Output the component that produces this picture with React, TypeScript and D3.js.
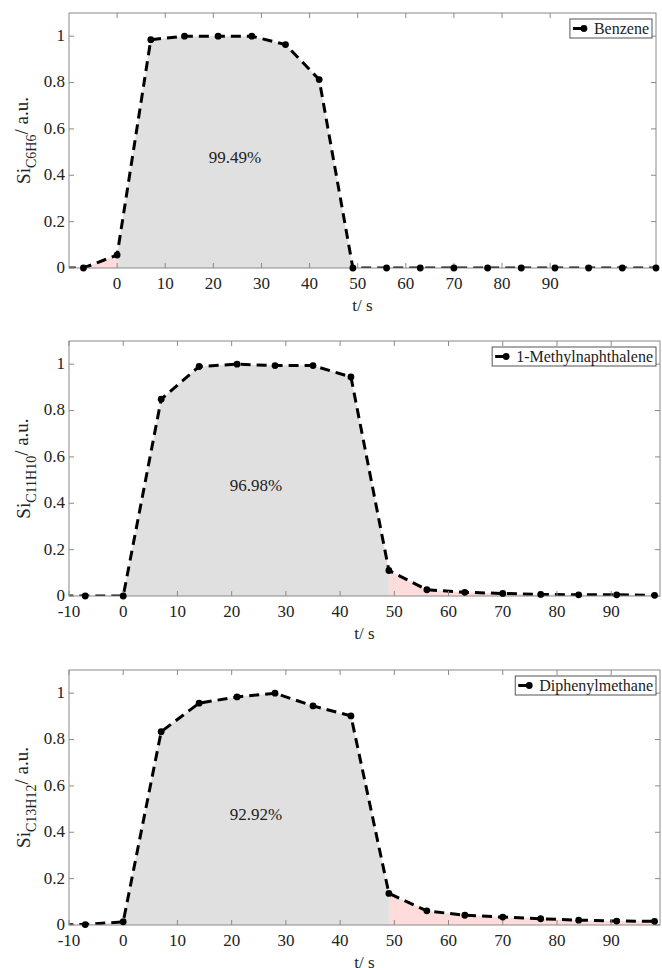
import React, { useEffect, useRef } from 'react';
import * as d3 from 'd3';

// Sampling times (s), one sample every 7 s
const times = [-14, -7, 0, 7, 14, 21, 28, 35, 42, 49, 56, 63, 70, 77, 84, 91, 98, 105, 112];

// Normalised signal intensity per compound
const benzene = [0, 0, 0.056, 0.985, 1.0, 1.0, 1.0, 0.964, 0.813, 0, 0, 0, 0, 0, 0, 0, 0, 0, 0];
const methylnaphthalene = [0, 0, 0, 0.849, 0.99, 1.0, 0.994, 0.994, 0.945, 0.11, 0.027, 0.016, 0.011, 0.007, 0.005, 0.005, 0.003];
const diphenylmethane = [0, 0.002, 0.014, 0.834, 0.957, 0.984, 1.0, 0.945, 0.902, 0.136, 0.061, 0.042, 0.034, 0.027, 0.021, 0.017, 0.016];

const compoundNames = ['Benzene', '1-Methylnaphthalene', 'Diphenylmethane'];
const formulas = ['C6H6', 'C11H10', 'C13H12'];
const shares = ['99.49%', '96.98%', '92.92%'];

// Window in which the pulse is counted (s)
const windowStart = 0;
const windowEnd = 49;

const yTicks = [0, 0.2, 0.4, 0.6, 0.8, 1];
const xTicksFirst = [0, 10, 20, 30, 40, 50, 60, 70, 80, 90];
const xTicksOther = [-10, 0, 10, 20, 30, 40, 50, 60, 70, 80, 90];
const xDomains: [number, number][] = [[-10, 112], [-10, 99], [-10, 99]];

const seriesList = [benzene, methylnaphthalene, diphenylmethane];
const tickSets = [xTicksFirst, xTicksOther, xTicksOther];

const W = 662;
const H = 968;
const FONT = "'Liberation Serif', 'Times New Roman', 'DejaVu Serif', serif";

const frames = [
  { left: 69, right: 656, top: 13, bottom: 268 },
  { left: 69, right: 660, top: 341, bottom: 596 },
  { left: 69, right: 660, top: 670, bottom: 925 },
];

export default function App() {
  const ref = useRef<SVGSVGElement | null>(null);

  useEffect(() => {
    const svg = d3.select(ref.current);
    svg.selectAll('*').remove();

    frames.forEach((f, i) => {
      const values = seriesList[i];
      const pts = values.map((v, k) => ({ t: times[k], v }));
      const x = d3.scaleLinear().domain(xDomains[i]).range([f.left, f.right]);
      const y = d3.scaleLinear().domain([0, 1.1]).range([f.bottom, f.top]);
      const g = svg.append('g').style('font-family', FONT);

      const clipId = `clip-${i}`;
      svg.append('defs').append('clipPath').attr('id', clipId)
        .append('rect')
        .attr('x', f.left).attr('y', f.top)
        .attr('width', f.right - f.left).attr('height', f.bottom - f.top);

      const area = d3.area<{ t: number; v: number }>()
        .x((d) => x(d.t)).y0(y(0)).y1((d) => y(d.v));
      const plot = g.append('g').attr('clip-path', `url(#${clipId})`);

      // pre/post window tails in pink, pulse in grey
      plot.append('path').datum(pts.filter((d) => d.t <= windowStart))
        .attr('d', area).attr('fill', '#ffdcdc');
      plot.append('path').datum(pts.filter((d) => d.t >= windowEnd))
        .attr('d', area).attr('fill', '#ffdcdc');
      plot.append('path').datum(pts.filter((d) => d.t >= windowStart && d.t <= windowEnd))
        .attr('d', area).attr('fill', '#e0e0e0');

      // frame and ticks
      g.append('rect')
        .attr('x', f.left).attr('y', f.top)
        .attr('width', f.right - f.left).attr('height', f.bottom - f.top)
        .attr('fill', 'none').attr('stroke', '#8a8a8a').attr('stroke-width', 1);

      const tl = 5;
      tickSets[i].forEach((t) => {
        const px = x(t);
        g.append('line').attr('x1', px).attr('x2', px).attr('y1', f.bottom).attr('y2', f.bottom - tl)
          .attr('stroke', '#8a8a8a');
        g.append('line').attr('x1', px).attr('x2', px).attr('y1', f.top).attr('y2', f.top + tl)
          .attr('stroke', '#8a8a8a');
        g.append('text').attr('x', px).attr('y', f.bottom + 21)
          .attr('text-anchor', 'middle').attr('font-size', 17)
          .attr('fill', '#222').text(String(t));
      });
      yTicks.forEach((t) => {
        const py = y(t);
        g.append('line').attr('x1', f.left).attr('x2', f.left + tl).attr('y1', py).attr('y2', py)
          .attr('stroke', '#8a8a8a');
        g.append('line').attr('x1', f.right).attr('x2', f.right - tl).attr('y1', py).attr('y2', py)
          .attr('stroke', '#8a8a8a');
        g.append('text').attr('x', f.left - 4).attr('y', py - 1).attr('dy', '0.35em')
          .attr('text-anchor', 'end').attr('font-size', 17)
          .attr('fill', '#222').text(String(t));
      });

      // axis titles
      g.append('text').attr('x', (f.left + f.right) / 2).attr('y', f.bottom + 43)
        .attr('text-anchor', 'middle').attr('font-size', 17)
        .attr('fill', '#222').text('t/ s');

      const yl = g.append('text')
        .attr('transform', `translate(30, ${(f.top + f.bottom) / 2}) rotate(-90)`)
        .attr('text-anchor', 'middle').attr('font-size', 19)
        .attr('fill', '#222');
      yl.append('tspan').text('Si');
      yl.append('tspan').attr('font-size', 14).attr('dy', 6).text(formulas[i]);
      yl.append('tspan').attr('dy', -8).text('/ a.u.');

      // share label
      g.append('text').attr('x', x((windowStart + windowEnd) / 2)).attr('y', y(0.48))
        .attr('dy', '0.35em').attr('text-anchor', 'middle')
        .attr('font-size', 17).attr('fill', '#222').text(shares[i]);

      // dashed series with markers
      const line = d3.line<{ t: number; v: number }>().x((d) => x(d.t)).y((d) => y(d.v));
      plot.append('path').datum(pts).attr('d', line)
        .attr('fill', 'none').attr('stroke', '#000').attr('stroke-width', 3)
        .attr('stroke-dasharray', '10 6');
      g.selectAll(null).data(pts.filter((d) => d.t >= xDomains[i][0] && d.t <= xDomains[i][1]))
        .enter().append('circle')
        .attr('cx', (d) => x(d.t)).attr('cy', (d) => y(d.v)).attr('r', 3.4).attr('fill', '#000');

      // legend
      const leg = g.append('g');
      const label = leg.append('text').attr('font-size', 16)
        .attr('fill', '#222').text(compoundNames[i]);
      const tw = (label.node() as SVGTextElement).getComputedTextLength();
      const lw = tw + 27;
      const lh = 19;
      const lx = f.right - 4 - lw;
      const ly = f.top + 6;
      leg.insert('rect', 'text').attr('x', lx).attr('y', ly).attr('width', lw).attr('height', lh)
        .attr('fill', '#fff').attr('stroke', '#555').attr('stroke-width', 1);
      leg.append('line').attr('x1', lx + 3).attr('x2', lx + 16).attr('y1', ly + lh / 2).attr('y2', ly + lh / 2)
        .attr('stroke', '#000').attr('stroke-width', 3);
      leg.append('circle').attr('cx', lx + 14).attr('cy', ly + lh / 2).attr('r', 3.4).attr('fill', '#000');
      label.attr('x', lx + 24).attr('y', ly + lh / 2).attr('dy', '0.35em');
    });
  }, []);

  return (
    <svg ref={ref} width={W} height={H}
      style={{ position: 'absolute', left: 0, top: 0, background: '#fff' }} />
  );
}
